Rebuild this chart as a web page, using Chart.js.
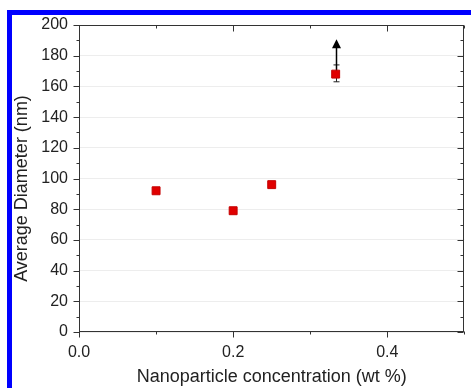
<!DOCTYPE html>
<html>
<head>
<meta charset="utf-8">
<script src="https://cdn.jsdelivr.net/npm/chart.js@4.4.1/dist/chart.umd.min.js"></script>
<style>
  html, body { margin: 0; padding: 0; background: #fff; overflow: hidden; }
  #wrap { position: relative; width: 471px; height: 388px; }
  #chart { position: absolute; left: 0; top: 0; }
  #frame { position: absolute; left: 7px; top: 10px; right: -20px; bottom: -20px;
           border-left: 5px solid #0000ff; border-top: 5px solid #0000ff; pointer-events: none; }
</style>
</head>
<body>
<div id="wrap">
  <canvas id="chart" width="471" height="388"></canvas>
  <div id="frame"></div>
</div>
<script>
// data
const concentration = [0.1, 0.2, 0.25, 0.333];
const diameter = [92, 79, 96, 168];
const errorMinus = [0, 0, 0, 5];
const errorPlus = [0, 0, 0, 6];
const arrowTip = [null, null, null, 190];

const xRange = [0, 0.5];
const yRange = [0, 200];
const xMajor = 0.2, xMinor = 0.1;
const yMajor = 20, yMinor = 10;

const xTitle = "Nanoparticle concentration (wt %)";
const yTitle = "Average Diameter (nm)";

const axisColor = "#333";
const fontFamily = "'Liberation Sans', Arial, sans-serif";

function range(lo, hi, step) {
  const out = [];
  for (let v = lo; v <= hi + 1e-9; v += step) out.push(+v.toFixed(6));
  return out;
}

// frame, tick marks, error bars, arrow, y title
const extras = {
  id: "extras",
  beforeDatasetsDraw(chart) {
    const ctx = chart.ctx, x = chart.scales.x, y = chart.scales.y;
    ctx.save();
    ctx.strokeStyle = "#222";
    ctx.lineWidth = 1;
    concentration.forEach((c, i) => {
      const px = Math.round(x.getPixelForValue(c)) + 0.5;
      if (errorMinus[i] || errorPlus[i]) {
        const lo = y.getPixelForValue(diameter[i] - errorMinus[i]);
        const hi = y.getPixelForValue(diameter[i] + errorPlus[i]);
        ctx.beginPath();
        ctx.moveTo(px, lo); ctx.lineTo(px, hi);
        ctx.moveTo(px - 3, lo); ctx.lineTo(px + 3, lo);
        ctx.moveTo(px - 3, hi); ctx.lineTo(px + 3, hi);
        ctx.stroke();
      }
      if (arrowTip[i] != null) {
        const from = y.getPixelForValue(diameter[i]);
        const tip = y.getPixelForValue(arrowTip[i]);
        ctx.lineWidth = 1.5;
        ctx.strokeStyle = "#000";
        ctx.beginPath();
        ctx.moveTo(px, from); ctx.lineTo(px, tip + 5);
        ctx.stroke();
        ctx.fillStyle = "#000";
        ctx.beginPath();
        ctx.moveTo(px, tip - 1);
        ctx.lineTo(px - 4.5, tip + 8);
        ctx.lineTo(px + 4.5, tip + 8);
        ctx.closePath();
        ctx.fill();
      }
    });
    ctx.restore();
  },
  afterDraw(chart) {
    const ctx = chart.ctx, a = chart.chartArea, x = chart.scales.x, y = chart.scales.y;
    const L = Math.round(a.left) + 0.5, R = Math.round(a.right) - 0.5;
    const T = Math.round(a.top) + 0.5, B = Math.round(a.bottom) - 0.5;
    ctx.save();
    ctx.strokeStyle = axisColor;
    ctx.lineWidth = 1;
    ctx.strokeRect(L, T, R - L, B - T);
    ctx.beginPath();
    range(xRange[0], xRange[1], xMinor).forEach(v => {
      const px = Math.round(x.getPixelForValue(v)) + 0.5;
      const major = Math.abs(v / xMajor - Math.round(v / xMajor)) < 1e-6;
      const len = major ? 6 : 3;
      ctx.moveTo(px, B); ctx.lineTo(px, B + len);
      ctx.moveTo(px, T); ctx.lineTo(px, T + len);
    });
    range(yRange[0], yRange[1], yMinor).forEach(v => {
      const py = Math.round(y.getPixelForValue(v)) + 0.5;
      const major = v % yMajor === 0;
      const len = major ? 6 : 3;
      ctx.moveTo(L, py); ctx.lineTo(L - len, py);
      ctx.moveTo(R, py); ctx.lineTo(R - len, py);
    });
    ctx.stroke();

    // y title, sits a bit below the axis middle in the original
    ctx.translate(22, (a.top + a.bottom) / 2 + 10);
    ctx.rotate(-Math.PI / 2);
    ctx.fillStyle = "#222";
    ctx.font = "18px " + fontFamily;
    ctx.textAlign = "center";
    ctx.textBaseline = "middle";
    ctx.fillText(yTitle, 0, 0);
    ctx.restore();
  }
};

function generateChart() {
  const ctx = document.getElementById("chart");
  return new Chart(ctx, {
    type: "scatter",
    data: {
      datasets: [{
        label: yTitle,
        data: concentration.map((c, i) => ({ x: c, y: diameter[i] })),
        pointStyle: "rect",
        pointRadius: 5.6,
        backgroundColor: "#e00000",
        borderColor: "#c40000",
        borderWidth: 1,
      }],
    },
    options: {
      responsive: false,
      animation: false,
      layout: { padding: { top: 25, right: 3, left: 0, bottom: 0 } },
      plugins: { legend: { display: false }, tooltip: { enabled: false } },
      scales: {
        x: {
          type: "linear",
          min: xRange[0],
          max: xRange[1],
          grid: { drawOnChartArea: false, drawTicks: false },
          border: { display: false },
          ticks: {
            stepSize: xMajor,
            includeBounds: false,
            padding: 11,
            color: "#222",
            font: { family: fontFamily, size: 16 },
            callback: (v) => v.toFixed(1),
          },
          title: {
            display: true,
            text: xTitle,
            color: "#222",
            font: { family: fontFamily, size: 18 },
            padding: { top: 0, bottom: 0 },
          },
          afterFit(scale) { scale.height = 56; },
        },
        y: {
          min: yRange[0],
          max: yRange[1],
          grid: { color: "rgba(0,0,0,0.07)", drawTicks: false },
          border: { display: false },
          ticks: {
            stepSize: yMajor,
            padding: 11,
            color: "#222",
            font: { family: fontFamily, size: 16 },
          },
          title: { display: false },
          afterFit(scale) { scale.width = 79; },
        },
      },
    },
    plugins: [extras],
  });
}

window.onload = function () {
  generateChart();
};
</script>
</body>
</html>
